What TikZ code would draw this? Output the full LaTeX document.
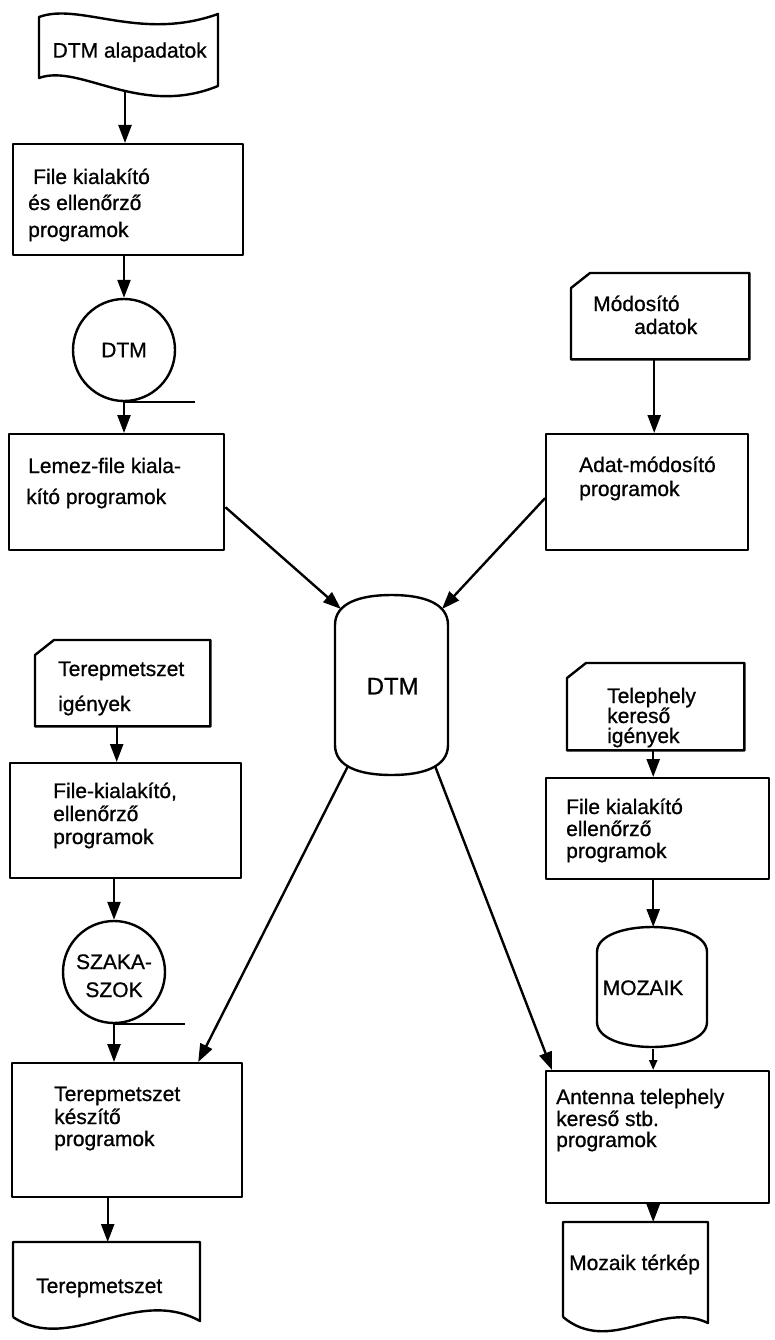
\documentclass[tikz,border=0pt]{standalone}
\usepackage{fontspec}
\setmainfont{Liberation Sans}[FakeBold=0.8]
\usetikzlibrary{arrows.meta,calc}

% outline of a punched-card symbol (cut top-left corner)
\newcommand\cardoutline[1]{%
  \draw ($(#1.north west)+(19,0)$) -- (#1.north east) -- (#1.south east)
        -- (#1.south west) -- ($(#1.north west)+(0,15)$) -- cycle;}

\begin{document}
\begin{tikzpicture}[x=1pt,y=-1pt,line width=2.4pt,line join=round,
  every node/.style={font=\fontsize{21}{25}\selectfont},
  area/.style={inner sep=0pt,anchor=north west},
  proc/.style={draw,rectangle,inner sep=0pt,anchor=north west},
  disk/.style={draw,circle,inner sep=0pt},
  txt/.style={inner sep=0pt,anchor=base west},
  ctxt/.style={inner sep=0pt,anchor=base},
  arr/.style={-{Triangle[length=18pt,width=13pt]}},
  sarr/.style={-{Triangle[length=10pt,width=8pt]}}]
\useasboundingbox (0,0) rectangle (774,1340);

% ---------- left upper column ----------
\node[area,minimum width=179,minimum height=70] (d1) at (39,16) {DTM alapadatok};
\draw (39,17) .. controls (80,2) and (140,42) .. (218,14) -- (218,86)
      .. controls (140,118) and (80,63) .. (39,78) -- cycle;
\coordinate (d1out) at (125,90);

\node[proc,minimum width=230,minimum height=111] (b1) at (12,143) {};
\node[txt] (b1t1) at (32,184) {File kialakító};
\node[txt] (b1t2) at (27,210) {és ellenőrző};
\node[txt] (b1t3) at (27,237) {programok};

\node[disk,minimum size=102] (s1) at (124,350) {DTM};
\draw (s1.south) -- ++(71,0);

\node[proc,minimum width=215,minimum height=116] (b2) at (8,433) {};
\node[txt] (b2t1) at (27,473) {Lemez-file kiala-};
\node[txt] (b2t2) at (25,504) {kító programok};

\draw[arr] (d1out) -- (d1out |- b1.north);
\draw[arr] (s1.north |- b1.south) -- (s1.north);
\draw[arr] (s1.south) -- (s1.south |- b2.north);

% ---------- right upper column ----------
\node[area,minimum width=176,minimum height=84] (c1) at (571,273) {};
\cardoutline{c1}
\node[txt] (c1t1) at (592,311) {Módosító};
\node[txt] (c1t2) at (633,334) {adatok};

\node[proc,minimum width=202,minimum height=116] (b3) at (545,433) {};
\node[txt] (b3t1) at (578,472) {Adat-módosító};
\node[txt] (b3t2) at (578,496) {programok};

\draw[arr] ([xshift=-6pt]c1.south) -- ([xshift=-6pt]c1.south |- b3.north);

% ---------- central store ----------
\node[area,minimum width=113,minimum height=180,font=\fontsize{24}{28}\selectfont] (dtm) at (335,595) {DTM};
\draw (335,625) .. controls (335,603) and (360,595) .. (391.5,595)
      .. controls (423,595) and (448,603) .. (448,625) -- (448,745)
      .. controls (448,767) and (423,775) .. (391.5,775)
      .. controls (360,775) and (335,767) .. (335,745) -- cycle;
\coordinate (dtmL) at (341,609);
\coordinate (dtmR) at (442,609);
\coordinate (dtmBL) at (348,766);
\coordinate (dtmBR) at (435,766);

\draw[arr] ([yshift=-15pt]b2.east) -- (dtmL);
\draw[arr] ([yshift=-6pt]b3.west) -- (dtmR);

% ---------- left lower column ----------
\node[area,minimum width=173,minimum height=84] (c2) at (35,640) {};
\cardoutline{c2}
\node[txt] (c2t1) at (57,676) {Terepmetszet};
\node[txt] (c2t2) at (57,711) {igények};

\node[proc,minimum width=231,minimum height=115] (b4) at (9,762) {};
\node[txt] (b4t1) at (52,798) {File-kialakító,};
\node[txt] (b4t2) at (52,821) {ellenőrző};
\node[txt] (b4t3) at (52,844) {programok};

\node[disk,minimum size=102] (s2) at (114,972) {};
\node[ctxt] (s2t1) at (114,969) {SZAKA-};
\node[ctxt] (s2t2) at (114,997) {SZOK};
\draw (s2.south) -- ++(71,0);

\node[proc,minimum width=230,minimum height=134] (b5) at (11,1062) {};
\node[txt] (b5t1) at (53,1101) {Terepmetszet};
\node[txt] (b5t2) at (53,1124) {készítő};
\node[txt] (b5t3) at (53,1146) {programok};

\node[area,minimum width=187,minimum height=78] (d2) at (13,1242) {};
\draw (13,1317) -- (13,1242) -- (200,1242) -- (200,1321)
      .. controls (135,1285) and (70,1355) .. (13,1317);
\node[txt] (d2t) at (35,1293) {Terepmetszet};

\draw[arr] ([xshift=-6pt]c2.south) -- ([xshift=-6pt]c2.south |- b4.north);
\draw[arr] (s2.north |- b4.south) -- (s2.north);
\draw[arr] (s2.south) -- (s2.south |- b5.north);
\draw[arr] (d2.north |- b5.south) -- (d2.north);
\draw[arr] (dtmBL) -- ([xshift=71pt]b5.north);

% ---------- right lower column ----------
\node[area,minimum width=175,minimum height=85] (c3) at (567,663) {};
\cardoutline{c3}
\node[txt] (c3t1) at (606,703) {Telephely};
\node[txt] (c3t2) at (606,723) {kereső};
\node[txt] (c3t3) at (606,743) {igények};

\node[proc,minimum width=223,minimum height=101] (b6) at (545,777) {};
\node[txt] (b6t1) at (565,814) {File kialakító};
\node[txt] (b6t2) at (565,836) {ellenőrző};
\node[txt] (b6t3) at (565,858) {programok};

\node[area,minimum width=110,minimum height=120] (m) at (597,927) {};
\draw (597,952) .. controls (597,935) and (625,927) .. (652,927)
      .. controls (679,927) and (707,935) .. (707,952) -- (707,1022)
      .. controls (707,1039) and (679,1047) .. (652,1047)
      .. controls (625,1047) and (597,1039) .. (597,1022) -- cycle;
\node[ctxt] (mt) at (643,995) {MOZAIK};

\node[proc,minimum width=223,minimum height=132] (b7) at (545,1070) {};
\node[txt] (b7t1) at (555,1104) {Antenna telephely};
\node[txt] (b7t2) at (555,1126) {kereső stb.};
\node[txt] (b7t3) at (555,1147) {programok};

\node[area,minimum width=145,minimum height=98] (d3) at (563,1222) {};
\draw (563,1317) -- (563,1222) -- (708,1222) -- (708,1323)
      .. controls (660,1300) and (610,1356) .. (563,1317);
\node[txt] (d3t) at (568,1270) {Mozaik térkép};

\draw[arr] (m.north |- c3.south) -- (m.north |- b6.north);
\draw[arr] (m.north |- b6.south) -- (m.north);
\draw[sarr] (m.south) -- (m.south |- b7.north);
\draw[arr] (m.south |- b7.south) -- (m.south |- d3.north);
\draw[arr] (dtmBR) -- ([xshift=7pt]b7.north west);

\end{tikzpicture}
\end{document}
